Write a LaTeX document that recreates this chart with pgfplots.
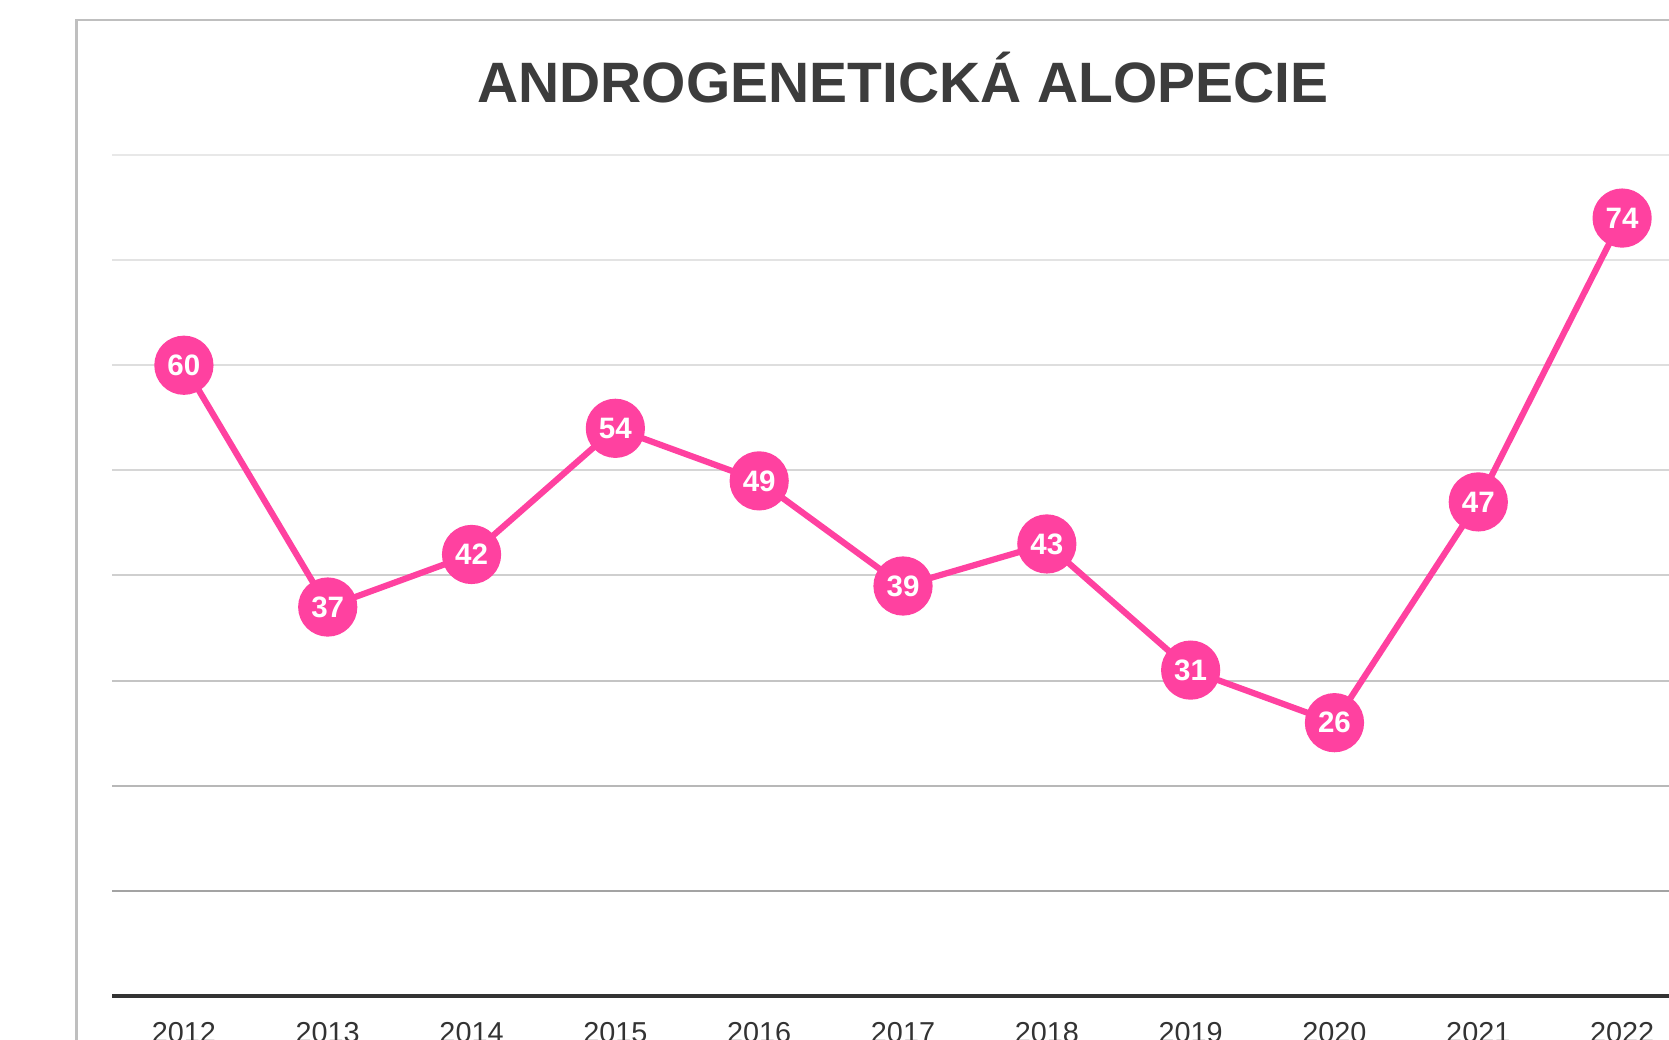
\documentclass[border=0pt]{standalone}
\usepackage{fontspec}
\setmainfont{Liberation Sans}
\usepackage{pgfplots}
\pgfplotsset{compat=1.18}
\definecolor{pinkline}{RGB}{255,65,160}
\definecolor{titlegray}{RGB}{60,60,60}

\begin{document}
\begin{tikzpicture}[x=1cm,y=1cm]
% picture is 16.69 x 10.40 cm (1 px = 0.01 cm), cropped on the right and bottom
\useasboundingbox (0,0) rectangle (16.69,10.40);
\clip (0,0) rectangle (16.69,10.40);
\fill[white] (0,0) rectangle (16.69,10.40);
\draw[black!25,line width=0.025cm] (0.766,-1) |- (18,10.20);
\node[anchor=base,text=titlegray,font=\fontsize{16.2}{19}\selectfont\bfseries] at (9.03,9.37) {ANDROGENETICKÁ ALOPECIE};

\begin{axis}[at={(1.12cm,0.44cm)},anchor=origin,scale only axis,
  width=15.82cm,height=8.41cm,
  xmin=2011.5,xmax=2022.5,ymin=0,ymax=80,clip=false,
  axis line style={draw=none},major tick length=0pt,
  ytick=\empty,
  xtick={2012,2013,2014,2015,2016,2017,2018,2019,2020,2021,2022},
  xticklabels={2012,2013,2014,2015,2016,2017,2018,2019,2020,2021,2022},
  x tick label style={font=\fontsize{8.2}{10}\selectfont,text=black!80,anchor=north,inner sep=0pt,yshift=-0.26cm},
  /pgf/number format/assume math mode=true,
  nodes near coords,
  every node near coord/.style={anchor=center,text=white,font=\fontsize{8.4}{10}\selectfont\bfseries},
]
\draw[black!9,line width=0.02cm] (axis cs:2011.5,80) -- (axis cs:2022.5,80);
\draw[black!11,line width=0.02cm] (axis cs:2011.5,70) -- (axis cs:2022.5,70);
\draw[black!13,line width=0.02cm] (axis cs:2011.5,60) -- (axis cs:2022.5,60);
\draw[black!16,line width=0.02cm] (axis cs:2011.5,50) -- (axis cs:2022.5,50);
\draw[black!19,line width=0.02cm] (axis cs:2011.5,40) -- (axis cs:2022.5,40);
\draw[black!23,line width=0.02cm] (axis cs:2011.5,30) -- (axis cs:2022.5,30);
\draw[black!28,line width=0.02cm] (axis cs:2011.5,20) -- (axis cs:2022.5,20);
\draw[black!36,line width=0.02cm] (axis cs:2011.5,10) -- (axis cs:2022.5,10);
\draw[black!80,line width=0.04cm] (axis cs:2011.5,0) -- (axis cs:2022.5,0);
\addplot[pinkline,line width=0.062cm,mark=*,mark size=0.265cm,
  mark options={fill=pinkline,draw=none}]
  coordinates {(2012,60)(2013,37)(2014,42)(2015,54)(2016,49)(2017,39)
               (2018,43)(2019,31)(2020,26)(2021,47)(2022,74)};
\end{axis}
\end{tikzpicture}
\end{document}
